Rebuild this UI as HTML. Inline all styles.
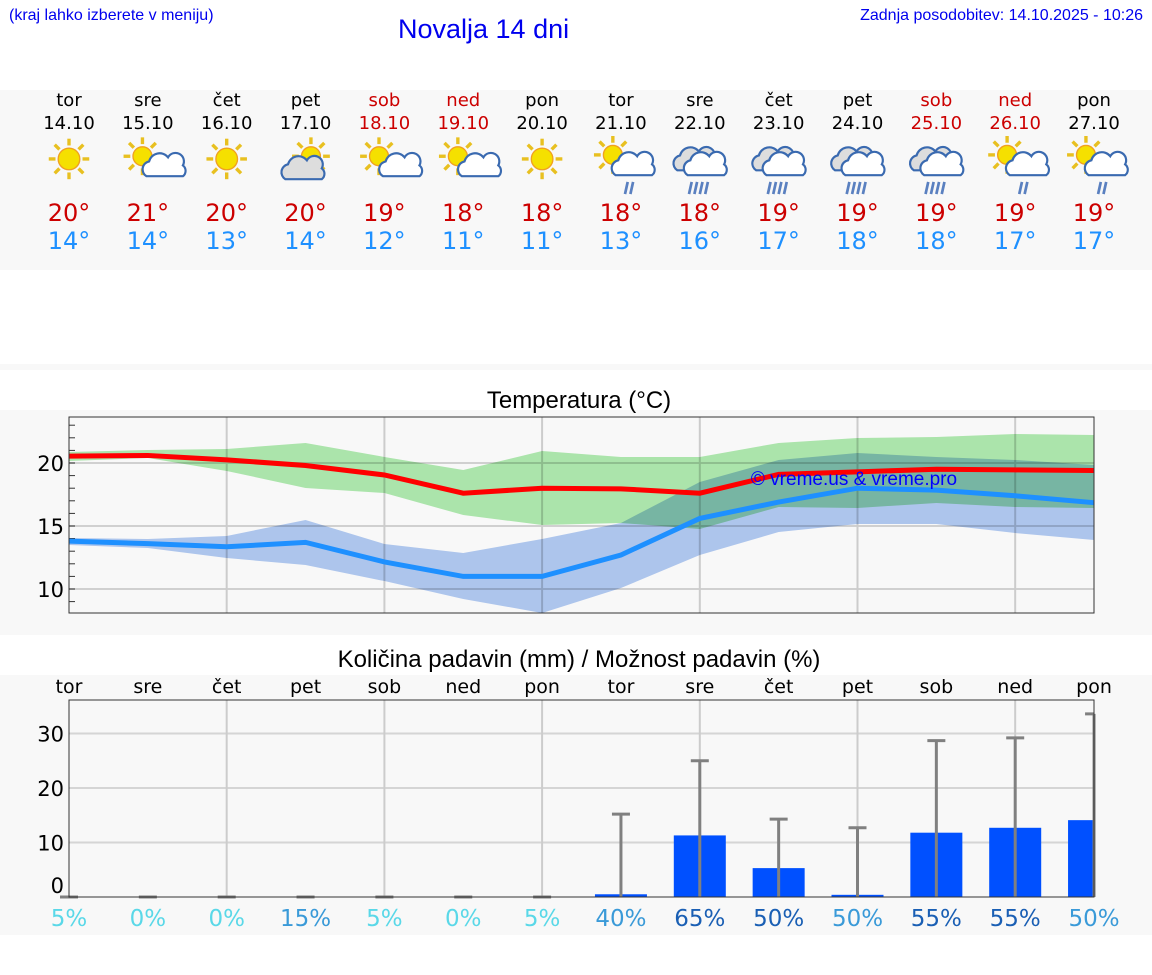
<!DOCTYPE html>
<html><head><meta charset="utf-8">
<style>
body{margin:0;width:1152px;height:975px;background:#fff;position:relative;overflow:hidden;font-family:"DejaVu Sans","Liberation Sans",sans-serif}
.abs{position:absolute}
</style></head><body>
<div class="abs" style="left:9px;top:7px;font:16px 'Liberation Sans',sans-serif;color:#0000ee">(kraj lahko izberete v meniju)</div>
<div class="abs" style="left:398px;top:14px;font:27px 'Liberation Sans',sans-serif;color:#0000ee">Novalja 14 dni</div>
<div class="abs" style="right:9px;top:7px;font:16px 'Liberation Sans',sans-serif;color:#0000ee">Zadnja posodobitev: 14.10.2025 - 10:26</div>
<div class="abs" style="left:0;top:90px;width:1152px;height:180px;background:#f8f8f8"></div>
<div class="abs" style="left:0;top:364px;width:1152px;height:6px;background:#f8f8f8"></div>
<div class="abs" style="left:0;top:410px;width:1152px;height:225px;background:#f8f8f8"></div>
<div class="abs" style="left:0;top:675px;width:1152px;height:260px;background:#f8f8f8"></div>
<svg id="svg" class="abs" style="left:0;top:0" width="1152" height="975" xmlns="http://www.w3.org/2000/svg"></svg>
<script>
const days=["tor","sre","čet","pet","sob","ned","pon","tor","sre","čet","pet","sob","ned","pon"];
const dates=["14.10","15.10","16.10","17.10","18.10","19.10","20.10","21.10","22.10","23.10","24.10","25.10","26.10","27.10"];
const weekend=[0,0,0,0,1,1,0,0,0,0,0,1,1,0];
const icons=["sun","sunc","sun","csun","sunc","sunc","sun","sunrain","rain","rain","rain","rain","sunrain","sunrain"];
const tmax=[20,21,20,20,19,18,18,18,18,19,19,19,19,19];
const tmin=[14,14,13,14,12,11,11,13,16,17,18,18,17,17];
const redLine=[20.55,20.6,20.25,19.8,19.05,17.6,18.0,17.95,17.6,19.1,19.3,19.5,19.45,19.4];
const blueLine=[13.8,13.6,13.35,13.7,12.15,11.0,11.0,12.7,15.6,16.9,18.0,17.85,17.4,16.85];
const greenHi=[20.87,21.03,21.11,21.59,20.48,19.44,20.95,20.48,20.48,21.59,21.98,22.06,22.3,22.22];
const greenLo=[20.16,20.4,19.37,18.02,17.62,15.87,15.08,15.24,14.76,16.51,16.43,16.83,16.51,16.43];
const blueHi=[14.05,13.97,14.21,15.48,13.57,12.86,13.97,15.24,18.49,20.24,20.79,20.48,20.24,19.84];
const blueLo=[13.49,13.25,12.46,11.9,10.63,9.21,8.1,10.08,12.7,14.52,15.16,15.16,14.44,13.89];
const tempTicks=[10,15,20];
const precip=[0,0,0,0,0,0,0,0.5,11.3,5.3,0.4,11.8,12.7,14.1];
const precipMax=[0,0,0,0,0,0,0,15.2,25,14.3,12.7,28.7,29.2,33.6];
const chance=[5,0,0,15,5,0,5,40,65,50,50,55,55,50];
const chanceDark=[0,0,0,0,0,0,0,0,1,1,0,1,1,0];
const precipTicks=[0,10,20,30];

const svg=document.getElementById('svg');const NS='http://www.w3.org/2000/svg';
function el(t,a,p){const e=document.createElementNS(NS,t);for(const k in a)e.setAttribute(k,a[k]);(p||svg).appendChild(e);return e;}
function txt(s,x,y,a,p){const e=el('text',Object.assign({x:x,y:y,'text-anchor':'middle','font-family':'DejaVu Sans, Liberation Sans, sans-serif'},a),p);e.textContent=s;return e;}
const X=i=>69+i*78.85;
// header
days.forEach((d,i)=>{const c=weekend[i]?'#cc0000':'#000';
 let t=txt(d,X(i),106,{'font-size':18,fill:c});
 t=txt(dates[i],X(i),129,{'font-size':18,fill:c});
 t=txt(tmax[i]+'°',X(i),221,{'font-size':24,fill:'#cc0000'});
 t=txt(tmin[i]+'°',X(i),249,{'font-size':24,fill:'#1e90ff'});
 const g=el('g',{transform:'translate('+X(i)+',163) scale(1.35)'});
 drawIcon(g,icons[i]);
});
function sun(g,cx,cy,r){for(let k=0;k<8;k++){const a=k*Math.PI/4;el('line',{x1:cx+Math.cos(a)*(r+2),y1:cy+Math.sin(a)*(r+2),x2:cx+Math.cos(a)*(r+7),y2:cy+Math.sin(a)*(r+7),stroke:'#e8c020','stroke-width':2.5},g);}
 el('circle',{cx:cx,cy:cy,r:r,fill:'#f5e000',stroke:'#f0a020','stroke-width':1},g);}
function cloud(g,cx,cy,s,fill){el('path',{d:`M${cx-13*s},${cy+8*s} a6,6 0 0 1 2,-11 a8,8 0 0 1 14,-3 a6,6 0 0 1 11,6 a5,5 0 0 1 0,8 z`,fill:fill,stroke:'#3a6ab0','stroke-width':1.6},g);}
function rain(g,cx,cy,n){for(let k=0;k<n;k++)el('line',{x1:cx-6+k*4,y1:cy,x2:cx-8+k*4,y2:cy+9,stroke:'#5a80c0','stroke-width':2},g);}
function drawIcon(g,t){
 if(t=='sun'){sun(g,0,-3,8);}
 else if(t=='sunc'){sun(g,-4,-5,7);cloud(g,10,3,0.85,'#fff');}
 else if(t=='csun'){sun(g,4,-5,7);cloud(g,-2,4,1,'#ddd');}
 else if(t=='sunrain'){sun(g,-6,-6,7);cloud(g,9,1,1,'#fff');rain(g,11,14,2);}
 else {cloud(g,-3,-3,1.05,'#ddd');cloud(g,4,1,1,'#fff');rain(g,0,14,4);}
}
// temperature chart
txt('Temperatura (°C)',579,408,{'font-size':24,fill:'#000','font-family':'Liberation Sans, sans-serif'});
const T=v=>463-(v-20)*12.6;
const tg=el('g',{});
el('rect',{x:69,y:417,width:1025,height:196,fill:'#f8f8f8'},tg);
tempTicks.forEach(v=>{el('line',{x1:69,x2:1094,y1:T(v),y2:T(v),stroke:'#d0d0d0','stroke-width':2},tg);
 const t=txt(v,64,T(v)+8,{'font-size':21,fill:'#000','text-anchor':'end'},tg);});
for(let v=9;v<=23;v++)el('line',{x1:69,x2:75,y1:T(v),y2:T(v),stroke:'#333'},tg);
for(let i=2;i<14;i+=2)el('line',{x1:X(i),x2:X(i),y1:417,y2:613,stroke:'#ccc','stroke-width':2},tg);
function band(hi,lo,fill,name){let d='M'+hi.map((v,i)=>X(i)+','+T(v)).join(' L')+' L'+lo.map((v,i)=>X(i)+','+T(v)).reverse().join(' L')+' Z';
 const p=el('path',{d:d,fill:fill,style:'mix-blend-mode:multiply'},tg);}
band(greenHi,greenLo,'#b0ebb0','max-temp-range');
band(blueHi,blueLo,'#b2cbf3','min-temp-range');
function line(a,c,name){const p=el('polyline',{points:a.map((v,i)=>X(i)+','+T(v)).join(' '),fill:'none',stroke:c,'stroke-width':5},tg);}
line(redLine,'#ff0000','max-temp-line');line(blueLine,'#1e90ff','min-temp-line');
txt('© vreme.us & vreme.pro',854,485,{'font-size':19,fill:'#0000ff','font-family':'Liberation Sans, sans-serif'},tg);
el('rect',{x:69,y:417,width:1025,height:196,fill:'none',stroke:'#333','stroke-width':1},tg);
// precipitation chart
txt('Količina padavin (mm) / Možnost padavin (%)',579,667,{'font-size':24,fill:'#000','font-family':'Liberation Sans, sans-serif'});
const P=v=>897-v*5.45;
const pg=el('g',{});
el('rect',{x:69,y:700,width:1025,height:197,fill:'#f8f8f8'},pg);
precipTicks.forEach(v=>{if(v>0)el('line',{x1:69,x2:1094,y1:P(v),y2:P(v),stroke:'#d5d5d5','stroke-width':2},pg);
 const t=txt(v,64,v==0?893:P(v)+8,{'font-size':21,fill:'#000','text-anchor':'end'},pg);});
for(let i=2;i<14;i+=2)el('line',{x1:X(i),x2:X(i),y1:700,y2:897,stroke:'#ccc','stroke-width':2},pg);
days.forEach((d,i)=>{const t=txt(d,X(i),693,{'font-size':19,fill:'#000'});
 const w=52,x0=Math.max(69,X(i)-w/2),x1=Math.min(1093,X(i)+w/2);
 if(precip[i]>0){const b=el('rect',{x:x0,y:P(precip[i]),width:x1-x0,height:897-P(precip[i]),fill:'#0050ff'},pg);}
 const e=el('g',{},pg);
 el('line',{x1:X(i),x2:X(i),y1:897,y2:P(precipMax[i]),stroke:'#808080','stroke-width':3},e);
 el('line',{x1:X(i)-9,x2:Math.min(1094,X(i)+9),y1:P(precipMax[i]),y2:P(precipMax[i]),stroke:'#808080','stroke-width':3},e);
 const c=chanceDark[i]?'#1a5fb4':(chance[i]>=15?'#3a9ad8':'#5ad8e8');
 const p=txt(chance[i]+'%',X(i),926,{'font-size':23,fill:c});
});
el('rect',{x:69,y:700,width:1025,height:197,fill:'none',stroke:'#333','stroke-width':1},pg);
</script>
</body></html>
